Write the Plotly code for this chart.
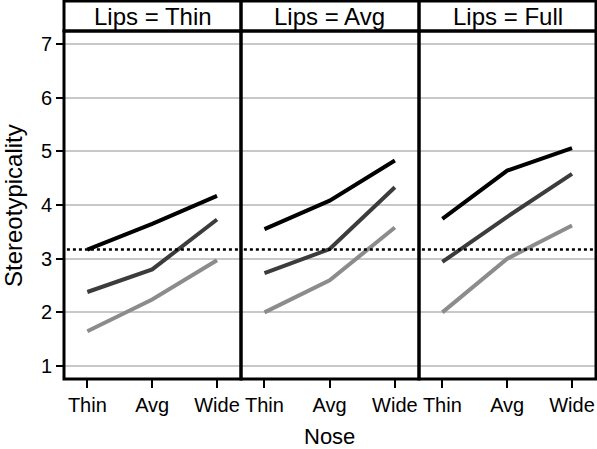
import plotly.graph_objects as go

nose = ["Thin", "Avg", "Wide"]
lips = ["Thin", "Avg", "Full"]
y_ticks = [1, 2, 3, 4, 5, 6, 7]

# series values per Lips panel (Thin, Avg, Full), each over Nose categories
black_vals = [[3.17, 3.65, 4.17], [3.55, 4.08, 4.83], [3.74, 4.64, 5.06]]
dark_vals = [[2.38, 2.80, 3.73], [2.73, 3.18, 4.33], [2.94, 3.78, 4.58]]
light_vals = [[1.65, 2.24, 2.97], [2.00, 2.60, 3.58], [2.00, 3.00, 3.62]]
reference_line = 3.17

series = [
    ("black", black_vals, "#000000"),
    ("dark", dark_vals, "#3c3c3c"),
    ("light", light_vals, "#8c8c8c"),
]

W, H = 597, 449
panel_x = [(64, 241), (241, 419), (419, 596)]
plot_top, plot_bot = 31, 379
strip_top = 1

def px(x):
    return x / W

def py(y):
    return 1 - y / H

fig = go.Figure()
font = "Liberation Sans, Arial, sans-serif"

for i, (x0, x1) in enumerate(panel_x):
    xa = "x" if i == 0 else f"x{i+1}"
    ya = "y" if i == 0 else f"y{i+1}"
    for name, vals, color in reversed(series):
        fig.add_trace(go.Scatter(
            x=[nose.index(c) for c in nose], y=vals[i], mode="lines", name=name,
            line=dict(color=color, width=4), xaxis=xa, yaxis=ya,
            showlegend=False, hoverinfo="skip"))
    fig.add_trace(go.Scatter(
        x=[-0.5, 2.5], y=[reference_line, reference_line], mode="lines",
        line=dict(color="black", width=2.5, dash="dot"),
        xaxis=xa, yaxis=ya, showlegend=False, hoverinfo="skip"))
    xkey = "xaxis" if i == 0 else f"xaxis{i+1}"
    ykey = "yaxis" if i == 0 else f"yaxis{i+1}"
    fig.layout[xkey] = dict(
        domain=[px(x0), px(x1)], anchor=ya, type="linear",
        range=[-0.36, 2.37], tickvals=[0, 1, 2], ticktext=nose,
        ticks="outside", ticklen=8, tickwidth=2, tickcolor="black",
        showgrid=False, zeroline=False, showline=False,
        tickfont=dict(family=font, size=20, color="black"))
    fig.layout[ykey] = dict(
        domain=[py(plot_bot), py(plot_top)], anchor=xa,
        range=[0.76, 7.24], tickvals=y_ticks,
        showgrid=True, gridcolor="#c8c8c8", gridwidth=1.5,
        zeroline=False, showline=False,
        ticks="outside" if i == 0 else "", ticklen=7, tickwidth=2,
        tickcolor="black", showticklabels=(i == 0),
        tickfont=dict(family=font, size=20, color="black"))

shapes = []
annotations = []
for i, (x0, x1) in enumerate(panel_x):
    shapes.append(dict(type="rect", xref="paper", yref="paper",
                       x0=px(x0), x1=px(x1), y0=py(plot_bot), y1=py(plot_top),
                       line=dict(color="black", width=3), layer="above"))
    shapes.append(dict(type="rect", xref="paper", yref="paper",
                       x0=px(x0), x1=px(x1), y0=py(plot_top), y1=py(strip_top),
                       line=dict(color="black", width=3), layer="above"))
    annotations.append(dict(text=f"Lips = {lips[i]}", xref="paper", yref="paper",
                            x=px((x0 + x1) / 2), y=py((plot_top + strip_top) / 2 + 1),
                            xanchor="center", yanchor="middle", showarrow=False,
                            font=dict(family=font, size=24, color="black")))

annotations.append(dict(text="Nose", xref="paper", yref="paper",
                        x=px((64 + 596) / 2), y=py(436), xanchor="center",
                        yanchor="middle", showarrow=False,
                        font=dict(family=font, size=22, color="black")))
annotations.append(dict(text="Stereotypicality", xref="paper", yref="paper",
                        x=px(13), y=py(206), xanchor="center", yanchor="middle",
                        textangle=-90, showarrow=False,
                        font=dict(family=font, size=24, color="black")))

fig.update_layout(
    width=W, height=H, margin=dict(l=0, r=0, t=0, b=0),
    paper_bgcolor="white", plot_bgcolor="white",
    shapes=shapes, annotations=annotations, showlegend=False)

fig.write_html("out.html", config={"displayModeBar": False},
               post_script="document.body.style.margin='0px';")
